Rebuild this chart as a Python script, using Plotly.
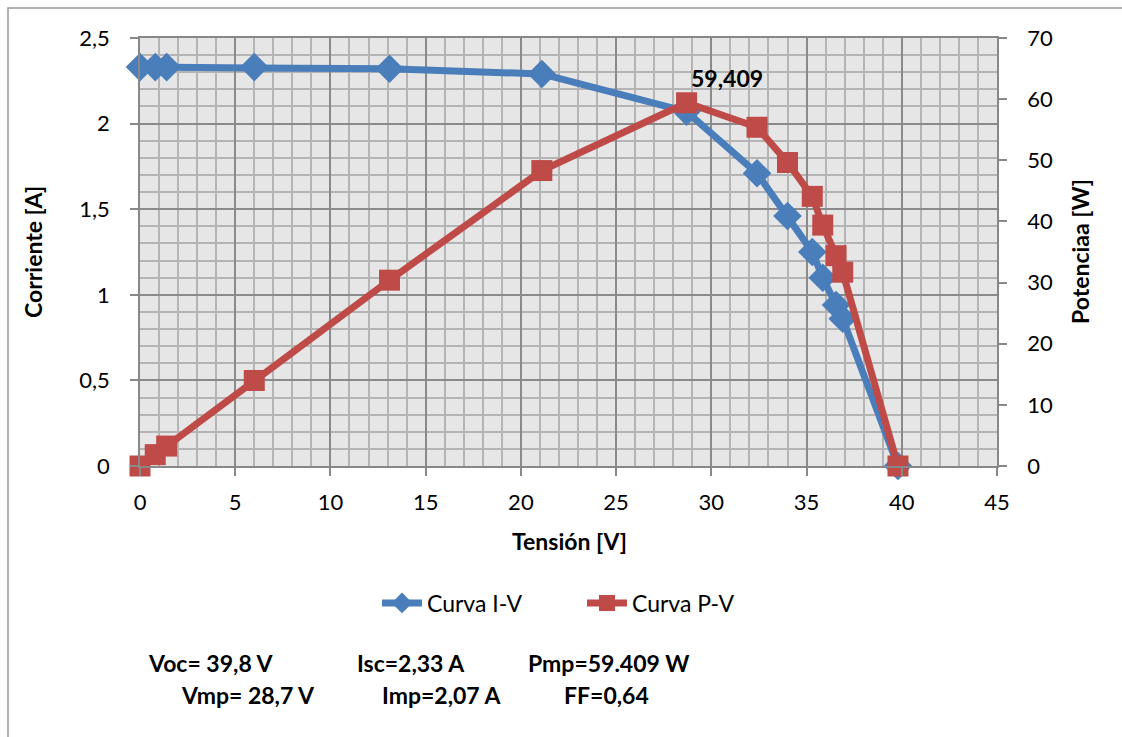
import plotly.graph_objects as go

# Measured I-V / P-V points of the module
tension = [0, 0.8, 1.4, 6.0, 13.1, 21.1, 28.7, 32.4, 34.0, 35.3, 35.85, 36.55, 36.9, 39.8]
corriente = [2.33, 2.33, 2.33, 2.33, 2.32, 2.29, 2.07, 1.71, 1.46, 1.25, 1.10, 0.94, 0.86, 0]
potencia = [0, 1.86, 3.26, 13.98, 30.39, 48.32, 59.409, 55.40, 49.64, 44.1, 39.4, 34.4, 31.7, 0]

x_ticks = [0, 5, 10, 15, 20, 25, 30, 35, 40, 45]
y_ticks = [0, 0.5, 1, 1.5, 2, 2.5]
y_ticktext = ["0", "0,5", "1", "1,5", "2", "2,5"]
y2_ticks = [0, 10, 20, 30, 40, 50, 60, 70]

resumen_1 = ["Voc= 39,8 V", "Isc=2,33 A", "Pmp=59.409 W"]
resumen_2 = ["Vmp= 28,7 V", "Imp=2,07 A", "FF=0,64"]

FONT = "Lato"
BLUE = "#4a7ebb"
RED = "#be4b48"
AXIS = "#888888"

W, H = 1122, 737
L, R, T, B = 140, 125, 38, 271
PW, PH = W - L - R, H - T - B


def px(x):
    return (x - L) / PW


def py(y):
    return (H - B - y) / PH


fig = go.Figure()

fig.add_trace(go.Scatter(
    x=tension, y=corriente, name="Curva I-V", mode="lines+markers",
    line=dict(color=BLUE, width=7),
    marker=dict(symbol="diamond", size=22, color=BLUE),
    cliponaxis=False,
))
fig.add_trace(go.Scatter(
    x=tension, y=potencia, name="Curva P-V", mode="lines+markers", yaxis="y2",
    line=dict(color=RED, width=7),
    marker=dict(symbol="square", size=21, color=RED),
    cliponaxis=False,
))

# Label on the maximum power point
imax = potencia.index(max(potencia))
fig.add_annotation(
    x=tension[imax], y=potencia[imax], yref="y2",
    text="<b>%s</b>" % f"{potencia[imax]:.3f}".replace(".", ","),
    showarrow=False, xshift=40, yshift=25,
    font=dict(family=FONT, size=23, color="black"),
)


def label(text, xc, yc, size=23, angle=0):
    fig.add_annotation(x=px(xc), y=py(yc), xref="paper", yref="paper",
                       xanchor="center", yanchor="middle", text="<b>%s</b>" % text,
                       textangle=angle, showarrow=False,
                       font=dict(family=FONT, size=size, color="black"))


# Axis titles
label("Tensión [V]", 569, 541)
label("Corriente [A]", 33, 252, angle=-90)
label("Potenciaa [W]", 1080, 252, angle=-90)

# Summary lines below the legend
for txt, xc in zip(resumen_1, [211, 411, 609]):
    label(txt, xc, 663)
for txt, xc in zip(resumen_2, [248, 442, 606]):
    label(txt, xc, 695)

# Chart frame: left and top edges
fig.add_shape(type="path", xref="paper", yref="paper",
              path="M %f %f L %f %f L %f %f" % (px(8), py(737), px(8), py(8), px(1122), py(8)),
              line=dict(color="#999999", width=1.5), layer="below")

fig.update_layout(
    width=W, height=H,
    margin=dict(l=L, r=R, t=T, b=B),
    paper_bgcolor="white", plot_bgcolor="#e6e6e6",
    font=dict(family=FONT, size=22, color="black"),
    showlegend=True,
    legend=dict(orientation="h", x=px(582), xanchor="center", y=py(603), yanchor="middle",
                font=dict(family=FONT, size=23), itemwidth=40, bgcolor="rgba(0,0,0,0)",
                entrywidth=150, entrywidthmode="pixels"),
    xaxis=dict(
        range=[0, 45], tickvals=x_ticks, ticks="outside", ticklen=8, tickcolor=AXIS,
        tickwidth=1.5, ticklabelstandoff=8,
        showgrid=True, gridcolor="#8a8a8a", gridwidth=1.5,
        minor=dict(dtick=1, showgrid=True, gridcolor="#b4b4b4", gridwidth=2),
        showline=True, linecolor=AXIS, linewidth=1.5, mirror=True, zeroline=False,
        tickfont=dict(size=22),
    ),
    yaxis=dict(
        range=[0, 2.5], tickvals=y_ticks, ticktext=y_ticktext, ticks="outside", ticklen=8,
        tickcolor=AXIS, tickwidth=1.5, ticklabelstandoff=16,
        showgrid=True, gridcolor="#8a8a8a", gridwidth=1.5,
        minor=dict(dtick=0.1, showgrid=True, gridcolor="#b4b4b4", gridwidth=2),
        showline=True, linecolor=AXIS, linewidth=1.5, zeroline=False,
        tickfont=dict(size=22),
    ),
    yaxis2=dict(
        range=[0, 70], tickvals=y2_ticks, overlaying="y", side="right",
        ticks="outside", ticklen=8, tickcolor=AXIS, tickwidth=1.5, ticklabelstandoff=16,
        showgrid=False, zeroline=False,
        showline=True, linecolor=AXIS, linewidth=1.5,
        tickfont=dict(size=22),
    ),
)

fig.write_html("out.html")
